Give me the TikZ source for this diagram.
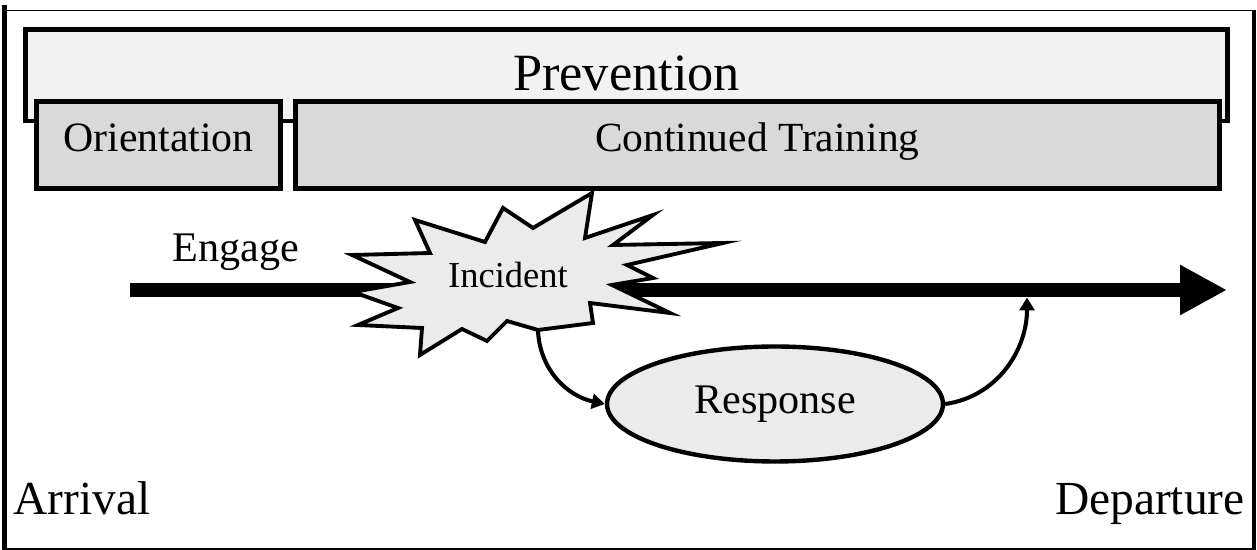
\documentclass[tikz,border=0pt]{standalone}
\usepackage{fontspec}
\setmainfont{Liberation Serif}
\usetikzlibrary{shapes.geometric, arrows.meta, positioning}
\definecolor{outerfill}{HTML}{F2F2F2}
\definecolor{phasefill}{HTML}{D9D9D9}
\definecolor{eventfill}{HTML}{EBEBEB}
\tikzset{
    phase/.style={
        rectangle,
        draw,
        line width=2.8pt,
        fill=phasefill,
        minimum height=1.74cm,
        text height=0.6cm,
        text depth=0.32cm,
        font=\fontsize{23.8}{28}\selectfont
    },
    umbrella/.style={
        phase,
        fill=outerfill,
        minimum height=1.83cm,
        text height=0.7cm,
        text depth=0.07cm,
        font=\fontsize{29.8}{34}\selectfont
    },
    burst/.style={
        draw,
        line width=2.2pt,
        fill=eventfill,
        line join=miter
    },
    outcome/.style={
        ellipse,
        draw,
        line width=2.5pt,
        fill=eventfill,
        minimum width=6.72cm,
        minimum height=2.3cm,
        font=\fontsize{24}{28}\selectfont
    },
    lifeline/.style={
        line width=8.5pt,
        -{Triangle[length=0.94cm, width=0.94cm]}
    },
    flow/.style={
        line width=2.3pt,
        -{Triangle[length=0.26cm, width=0.3cm]}
    },
    caption/.style={
        inner sep=0pt,
        font=\fontsize{24}{28}\selectfont
    }
}

\begin{document}
\begin{tikzpicture}[x=0.02cm, y=0.02cm]
    \useasboundingbox (0,0) rectangle (1257,550);

    % Frame
    \draw[line width=2.8pt] (4.2,545) -- (4.2,0);
    \draw[line width=0.9pt] (4,539.5) -- (1255,539.5);
    \draw[line width=2.3pt] (1254,539.5) -- (1254,0);
    \draw[line width=1.1pt] (4,1) -- (1255,1);

    % Phase boxes
    \node (Prevention) [umbrella, minimum width=24.04cm] at (626.5,474.75) {Prevention};
    \node (Orientation) [phase, minimum width=4.88cm] at (158.5,405) {Orientation};
    \node (Training) [phase, minimum width=18.48cm, font=\fontsize{23.6}{28}\selectfont,
        right=0.2cm of Orientation] {Continued Training};

    % Time line
    \coordinate (lifestart) at (130,260);
    \coordinate (lifeend) at (1227,260);
    \coordinate (rejoin) at (1027,252.5);
    \draw [lifeline] (lifestart) -- (lifeend);
    \node (Engage) [caption, anchor=base] at (236,288) {Engage};

    % Incident burst
    \draw [burst] (352,295) -- (430,297) -- (415,330) -- (485,308) -- (503,342)
        -- (533,322) -- (592,357) -- (585,312) -- (653,335) -- (613,305)
        -- (723,307) -- (627,285) -- (653,272) -- (612,265) -- (670,237)
        -- (590,247) -- (593,227) -- (538,220) -- (507,229) -- (487,209)
        -- (462,221) -- (420,195) -- (422,222) -- (358,225) -- (398,242)
        -- (353,258) -- (410,268) -- cycle;
    \node (Incident) [caption, font=\fontsize{20.8}{24}\selectfont] at (508,274.5) {Incident};
    \coordinate (burstfoot) at (538,220);

    % Response
    \node (Response) [outcome] at (775,146) {Response};
    \draw [flow] (burstfoot) to[out=-88, in=168] (Response.west);
    \draw [flow] (Response.east) to[out=8, in=-90] (rejoin);

    % End points
    \node (Arrival) [caption, anchor=base west, font=\fontsize{27}{32}\selectfont] at (13,35) {Arrival};
    \node (Departure) [caption, anchor=base east, font=\fontsize{27}{32}\selectfont] at (1245,35) {Departure};

\end{tikzpicture}
\end{document}
